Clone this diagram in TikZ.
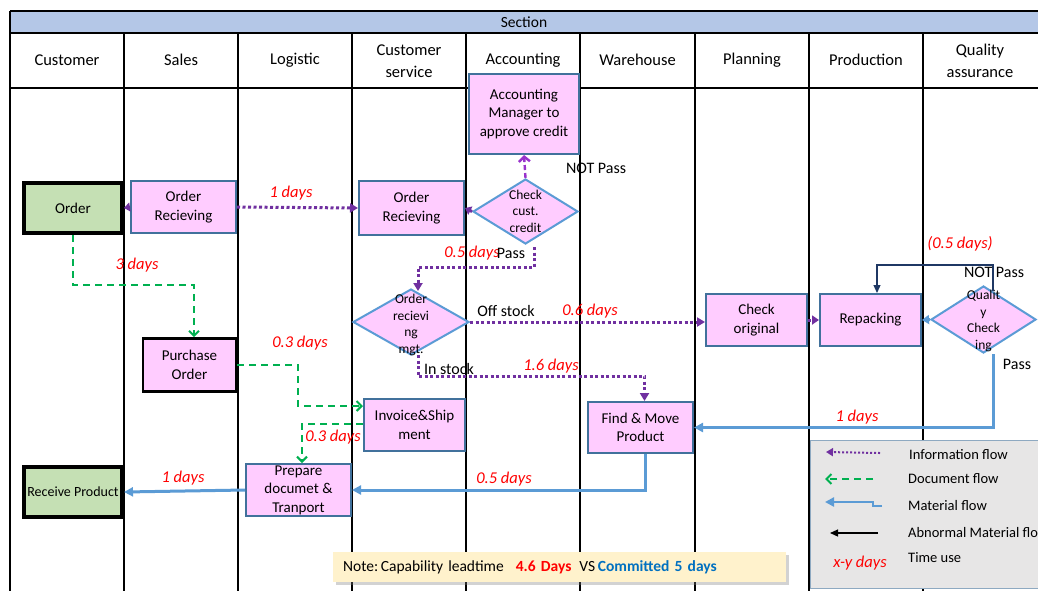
\documentclass[tikz,border=0pt]{standalone}
\usepackage{fontspec}
\setmainfont{Carlito}
\usetikzlibrary{arrows.meta,shapes.geometric,shadows}

\definecolor{bandblue}{HTML}{B4C7E7}
\definecolor{pinkfill}{HTML}{FFCCFF}
\definecolor{boxedge}{HTML}{41719C}
\definecolor{diaedge}{HTML}{5B9BD5}
\definecolor{greenfill}{HTML}{C5E0B4}
\definecolor{infopurple}{HTML}{7030A0}
\definecolor{askpurple}{HTML}{9933CC}
\definecolor{docgreen}{HTML}{00B050}
\definecolor{matblue}{HTML}{5B9BD5}
\definecolor{navyline}{HTML}{1F3864}
\definecolor{notefill}{HTML}{FFF2CC}
\definecolor{legendfill}{HTML}{E7E6E6}
\definecolor{legendedge}{HTML}{8EA9C1}
\definecolor{commitblue}{HTML}{0070C0}

\begin{document}
\begin{tikzpicture}[x=1pt,y=-1pt,
  laneline/.style={draw=black,line width=1.2pt},
  lanehead/.style={font=\fontsize{16.5}{22}\selectfont,align=center,inner sep=0pt},
  procbox/.style={rectangle,draw=boxedge,line width=2pt,fill=pinkfill,align=center,
    font=\fontsize{15}{18.5}\selectfont,inner sep=0pt},
  endbox/.style={rectangle,draw=black,line width=4pt,fill=greenfill,align=center,
    font=\fontsize{15}{18}\selectfont,inner sep=0pt},
  decision/.style={diamond,draw=diaedge,line width=2pt,fill=pinkfill,inner sep=0pt},
  dtext/.style={align=center,font=\fontsize{13.5}{16.5}\selectfont,inner sep=0pt},
  days/.style={text=red,font=\itshape\fontsize{16.5}{18}\selectfont,inner sep=1pt},
  tag/.style={font=\fontsize{16}{18}\selectfont,inner sep=1pt},
  legtext/.style={font=\fontsize{14.5}{18}\selectfont,anchor=west,inner sep=0pt},
  infoflow/.style={draw=infopurple,line width=3pt,dash pattern=on 3pt off 2.5pt,
    -{Triangle[length=8pt,width=9pt]}},
  askflow/.style={draw=askpurple,line width=2.4pt,dash pattern=on 5pt off 3pt,
    -{Straight Barb[length=5pt,width=11pt]}},
  docflow/.style={draw=docgreen,line width=2pt,dash pattern=on 7pt off 5pt,
    -{Straight Barb[length=5pt,width=10pt]}},
  matflow/.style={draw=matblue,line width=3pt,-{Triangle[length=9pt,width=9pt]}},
  abnormal/.style={draw=navyline,line width=1.2pt,-{Triangle[length=8pt,width=7pt]}},
]
\useasboundingbox (0,0) rectangle (1038,590);
\clip (0,0) rectangle (1038,590);
\fill[white] (0,0) rectangle (1038,590);

% ---- swimlane frame ----
\fill[bandblue] (10,11) rectangle (1045,33);
\draw[laneline] (10,11) -- (1045,11);
\draw[laneline] (10,33) -- (1045,33);
\draw[laneline] (10,88) -- (1045,88);
\draw[laneline] (10,11) -- (10,595);
\foreach \lx in {124,238,352,466,580,695,809,923}
  \draw[laneline] (\lx,33) -- (\lx,595);

\node[font=\fontsize{15.5}{18}\selectfont] (section) at (524,22) {Section};
\node[lanehead] (hcust)  at (67,60)    {Customer};
\node[lanehead] (hsales) at (181,60)   {Sales};
\node[lanehead] (hlog)   at (295,60)   {Logistic};
\node[lanehead] (hcs)    at (409,61)   {Customer\\service};
\node[lanehead] (hacc)   at (523,60)   {Accounting};
\node[lanehead] (hwh)    at (637.5,60) {Warehouse};
\node[lanehead] (hplan)  at (752,60)   {Planning};
\node[lanehead] (hprod)  at (866,60)   {Production};
\node[lanehead] (hqa)    at (980,61)   {Quality\\assurance};

% ---- process steps ----
\node[endbox, minimum width=98pt, minimum height=50pt] (order) at (73,208) {Order};
\node[endbox, minimum width=98pt, minimum height=50pt, font=\fontsize{14}{18}\selectfont] (recv) at (73,492) {Receive Product};
\node[procbox, minimum width=105pt, minimum height=52pt] (ors) at (183.5,207) {Order\\Recieving};
\node[procbox, minimum width=105pt, minimum height=54pt] (orc) at (411.5,208) {Order\\Recieving};
\node[procbox, minimum width=110pt, minimum height=80pt] (acc) at (524,114) {Accounting\\Manager to\\approve credit};
\node[procbox, draw=black, line width=2.6pt, minimum width=93pt, minimum height=53pt] (po) at (189.5,365) {Purchase\\Order};
\node[procbox, minimum width=101pt, minimum height=52pt] (inv) at (414.5,425) {Invoice\&Ship\\ment};
\node[procbox, minimum width=105pt, minimum height=52pt] (prep) at (298.5,490) {Prepare\\documet \&\\Tranport};
\node[procbox, minimum width=105pt, minimum height=51pt] (fmp) at (640.5,427.5) {Find \& Move\\Product};
\node[procbox, minimum width=101pt, minimum height=52pt] (chk) at (756.5,320) {Check\\original};
\node[procbox, minimum width=101pt, minimum height=52pt] (rep) at (870.5,320) {Repacking};

% ---- decisions ----
\node[decision, minimum width=105pt, minimum height=65pt] (ccc) at (525.5,211.5) {};
\node[dtext] (ccctext) at (525.5,211) {Check\\cust.\\credit};
\node[decision, minimum width=116pt, minimum height=66pt] (orm) at (411,322) {};
\node[dtext] (ormtext) at (411,325) {Order\\recievi\\ng\\mgt.};
\node[decision, minimum width=105pt, minimum height=67pt] (qc) at (983.5,319.5) {};
\node[dtext] (qctext) at (983.5,321) {Qualit\\y\\Check\\ing};

% ---- information flow ----
\draw[infoflow,-{Triangle[length=6pt,width=9pt]}] (ors.west) -- (order.east);
\draw[infoflow] (ors.east) -- (orc.west);
\draw[infoflow,-{Triangle[length=6pt,width=9pt]}] (ccc.west) -- (orc.east);
\draw[askflow] (ccc.north) -- (acc.south);
\coordinate (passout) at (534,247);
\draw[infoflow] (passout) -- ++(0,20) -| ([xshift=7pt,yshift=-3pt]orm.north);
\draw[infoflow] (orm.east) -- (orm.east -| chk.west);
\draw[infoflow] ([xshift=7pt,yshift=1pt]orm.south) -- ++(0,21) -| ([xshift=4pt]fmp.north);
\draw[infoflow,-{Triangle[length=7pt,width=9pt]}] (chk.east) -- (rep.west);

% ---- material flow ----
\draw[matflow,-{Triangle[length=7pt,width=9pt]}] (qc.west) -- (rep.east);
\draw[matflow] ([xshift=9.5pt]qc.south) |- (fmp.east);
\draw[matflow] ([xshift=4.5pt]fmp.south) |- (prep.east);
\draw[matflow] (prep.west) -- (recv.east);
\draw[abnormal] ([xshift=9.5pt,yshift=-6pt]qc.north) -- ++(0,-26) -| ([xshift=6.5pt]rep.north);

% ---- document flow ----
\draw[docflow] (order.south) -- ++(0,50) -| ([xshift=4.5pt]po.north);
\draw[docflow] (po.east) -- ++(61,0) |- ([yshift=19pt]inv.west);
\draw[docflow] ([yshift=1pt]inv.west) -| ([xshift=3.5pt]prep.north);

% ---- flow labels ----
\node[days] (d1) at (291,193) {1 days};
\node[days] (d2) at (137,265) {3 days};
\node[days] (d3) at (472,253) {0.5 days};
\node[tag]  (tpass) at (511,253) {Pass};
\node[tag]  (tnot) at (596,168) {NOT Pass};
\node[tag]  (toff) at (506,311) {Off stock};
\node[days] (d4) at (590,311) {0.6 days};
\node[tag]  (tin) at (449,369) {In stock};
\node[days] (d5) at (551,366) {1.6 days};
\node[days] (d6) at (300,343) {0.3 days};
\node[days] (d7) at (333,437) {0.3 days};
\node[days] (d8) at (504,479) {0.5 days};
\node[days] (d9) at (183,478) {1 days};
\node[days] (d10) at (857,417) {1 days};
\node[days] (d11) at (960,244) {(0.5 days)};
\node[tag]  (tnot2) at (994,272) {NOT Pass};
\node[tag]  (tpass2) at (1017,364) {Pass};

% ---- legend ----
\node[rectangle, draw=legendedge, line width=1.4pt, fill=legendfill, anchor=north west,
      minimum width=250pt, minimum height=148pt, inner sep=0pt] (legend) at (810,440) {};
\coordinate (lia) at (880,453);
\coordinate (lib) at (826,452);
\draw[infoflow, line width=2pt, dash pattern=on 2pt off 2pt, -{Triangle[length=7pt,width=8pt]}] (lia) -- (lib);
\coordinate (lda) at (873,479);
\coordinate (ldb) at (825,479);
\draw[docflow] (lda) -- (ldb);
\coordinate (lma) at (882,506);
\coordinate (lmj) at (873,506);
\coordinate (lmk) at (873,502);
\coordinate (lmb) at (825,502);
\draw[matflow, line width=2.4pt] (lma) -- (lmj) -- (lmk) -- (lmb);
\coordinate (laa) at (878,533);
\coordinate (lab) at (830,533);
\draw[abnormal, draw=black] (laa) -- (lab);
\node[legtext] (leg1) at (909,455) {Information flow};
\node[legtext] (leg2) at (908,479) {Document\ flow};
\node[legtext] (leg3) at (908,506) {Material flow};
\node[legtext] (leg4) at (908,533) {Abnormal Material flow};
\node[days] (legxy) at (860,563) {x-y days};
\node[legtext] (leg5) at (908,558) {Time use};

% ---- lead-time note ----
\node[rectangle, fill=notefill, anchor=west, minimum width=453pt, minimum height=30pt,
      text width=433pt, inner xsep=10pt, inner ysep=0pt, align=left,
      font=\fontsize{15.5}{18}\selectfont,
      drop shadow={opacity=0.35,shadow xshift=2.5pt,shadow yshift=-2.5pt}] (note) at (333,567)
  {Note:\,Capability leadtime\hspace{12pt}{\color{red}\bfseries 4.6 Days}\hspace{8pt}VS\,{\color{commitblue}\bfseries Committed 5 days}};
\end{tikzpicture}
\end{document}
